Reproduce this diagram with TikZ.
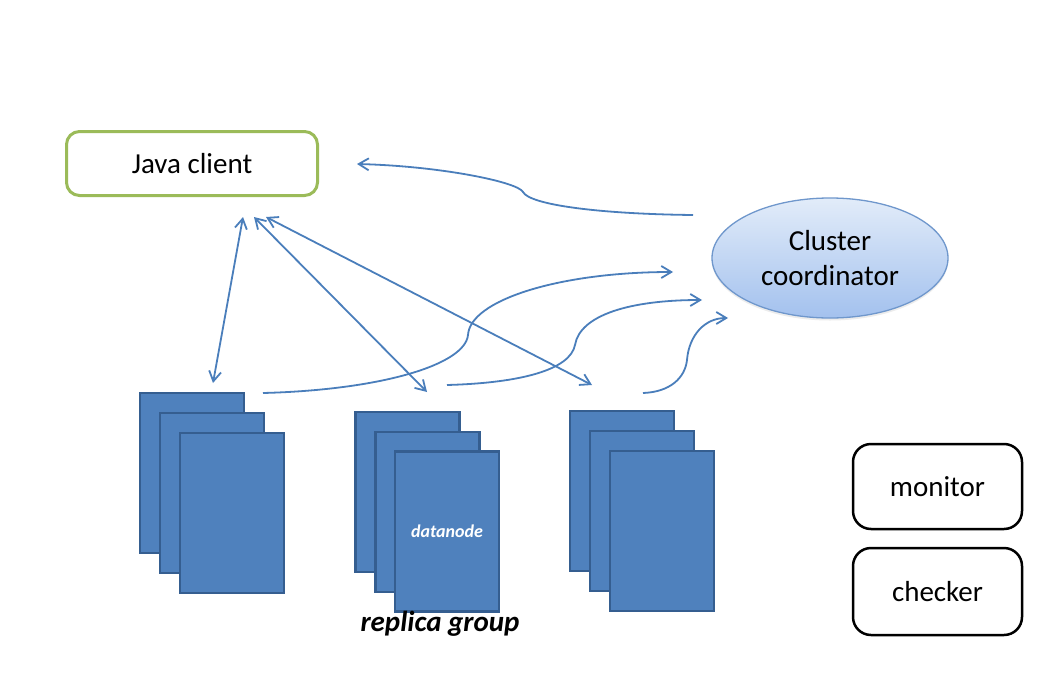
\documentclass[tikz,border=0pt]{standalone}
\usepackage{fontspec}
\setmainfont{Carlito}
\usetikzlibrary{arrows.meta,shapes.geometric,shadows}
\definecolor{lineblue}{HTML}{4A7EBB}
\definecolor{dnfill}{HTML}{4F81BD}
\definecolor{dnborder}{HTML}{355E90}
\definecolor{greenb}{HTML}{9BBB59}
\definecolor{elltop}{HTML}{E2ECF9}
\definecolor{ellbot}{HTML}{A3C1EE}
\definecolor{ellborder}{HTML}{6F97CC}
\begin{document}
\begin{tikzpicture}[x=1pt,y=-1pt,
  tipb/.tip={Straight Barb[length=10pt,width=12pt]},
  conn/.style={draw=lineblue, line width=1.8pt, -tipb},
  dconn/.style={draw=lineblue, line width=1.8pt, tipb-tipb},
  dn/.style={draw=dnborder, fill=dnfill, line width=2.6pt, minimum width=104pt, minimum height=160pt, inner sep=0pt},
  lbl/.style={font=\fontsize{29}{35}\selectfont, align=center},
  javabox/.style={draw=greenb, line width=3pt, rounded corners=13pt, minimum width=251pt, minimum height=64pt, inner sep=0pt},
  sidebox/.style={draw=black, line width=2.5pt, rounded corners=18pt, minimum width=169pt, inner sep=0pt},
  coord/.style={ellipse, draw=ellborder, line width=1.3pt, top color=elltop, bottom color=ellbot, minimum width=236pt, minimum height=120pt, inner sep=0pt, drop shadow={opacity=0.15, shadow xshift=0pt, shadow yshift=-2.5pt}}
]
\useasboundingbox (0,0) rectangle (1052,688);
\fill[white] (0,0) rectangle (1052,688);

% main nodes
\node[javabox, lbl] (java) at (192,163.5) {Java client};
\node[coord, lbl] (cc) at (830,258) {Cluster\\coordinator};
\node[sidebox, lbl, minimum height=85pt] (monitor) at (937.5,486.5) {monitor};
\node[sidebox, lbl, minimum height=87pt] (checker) at (937.5,591.5) {checker};

% replica group 1
\node[dn] (g1a) at (192,473) {};
\node[dn] (g1b) at (212,493) {};
\node[dn] (g1c) at (232,513) {};
% replica group 2
\node[dn] (g2a) at (407.5,492) {};
\node[dn] (g2b) at (427.5,512) {};
\node[dn] (g2c) at (447,531.5) {};
\node[text=white, font=\fontsize{18}{20}\selectfont\bfseries\itshape] (dnl) at (g2c) {datanode};
\node[font=\fontsize{29}{34}\selectfont\bfseries\itshape] (rg) at (440,624) {replica group};
% replica group 3
\node[dn] (g3a) at (622,491) {};
\node[dn] (g3b) at (642,511) {};
\node[dn] (g3c) at (662,531) {};

% connector end points
\coordinate (jin) at (357,164);
\coordinate (ccout) at (693,215);
\coordinate (jA) at (243,217);
\coordinate (jB) at (254,217);
\coordinate (jC) at (266,217);
\coordinate (g1top) at (213,383);
\coordinate (g2top) at (427,392);
\coordinate (g3top) at (592,385);
\coordinate (g1out) at (263,393);
\coordinate (g2out) at (447,385);
\coordinate (g3out) at (643,393);
\coordinate (ccin1) at (673,272);
\coordinate (ccin2) at (702,300);
\coordinate (ccin3) at (728,318);

% coordinator -> java client
\draw[conn] (ccout) .. controls (600,214) and (530,205) .. (523,192)
  .. controls (518,182) and (440,166) .. (jin);

% java client <-> replica groups
\draw[dconn] (jA) -- (g1top);
\draw[dconn] (jB) -- (g2top);
\draw[dconn] (jC) -- (g3top);

% replica groups -> coordinator
\draw[conn] (g1out) .. controls (380,390) and (465,365) .. (468,335)
  .. controls (470,300) and (560,272) .. (ccin1);
\draw[conn] (g2out) .. controls (520,383) and (570,370) .. (575,345)
  .. controls (580,315) and (630,300) .. (ccin2);
\draw[conn] (g3out) .. controls (670,392) and (685,378) .. (687,360)
  .. controls (689,335) and (705,318) .. (ccin3);
\end{tikzpicture}
\end{document}
